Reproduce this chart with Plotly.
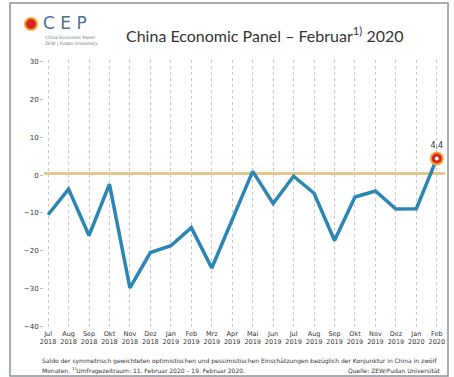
import plotly.graph_objects as go

months = ["Jul", "Aug", "Sep", "Okt", "Nov", "Dez", "Jan", "Feb", "Mrz", "Apr", "Mai", "Jun",
          "Jul", "Aug", "Sep", "Okt", "Nov", "Dez", "Jan", "Feb"]
years = ["2018"] * 6 + ["2019"] * 12 + ["2020"] * 2
values = [-10.5, -3.7, -16.0, -2.4, -29.9, -20.5, -18.7, -13.9, -24.6, -12.0, 1.0, -7.5,
          -0.3, -4.8, -17.3, -5.8, -4.2, -9.0, -8.9, 4.4]
last_label = "4,4"

W, H = 454, 377
ML, MR, MT, MB = 44, 9, 60, 49
PW, PH = W - ML - MR, H - MT - MB

def px(x):
    return (x - ML) / PW

def py(y):
    return (H - MB - y) / PH

xs = list(range(len(values)))
ticktext = [f"{m}<br>{y}" for m, y in zip(months, years)]

fig = go.Figure()

fig.add_trace(go.Scatter(
    x=xs, y=values, mode="lines",
    line=dict(color="#2b86b3", width=3.5),
    hoverinfo="skip", showlegend=False,
))
# highlighted last point
fig.add_trace(go.Scatter(
    x=[xs[-1]], y=[values[-1]], mode="markers+text",
    marker=dict(size=12, color="#d7261e", line=dict(color="#f2a33a", width=2)),
    text=[last_label], textposition="top center",
    textfont=dict(size=8, color="#333333", family="DejaVu Sans"),
    hoverinfo="skip", showlegend=False, cliponaxis=False,
))
fig.add_trace(go.Scatter(
    x=[xs[-1]], y=[values[-1]], mode="markers",
    marker=dict(size=4, color="white"),
    hoverinfo="skip", showlegend=False, cliponaxis=False,
))

shapes = [
    # zero line (orange band)
    dict(type="line", xref="paper", yref="y", x0=0, x1=1, y0=0.4, y1=0.4,
         line=dict(color="#e6c88a", width=3), layer="below"),
    # outer frame
    dict(type="rect", xref="paper", yref="paper", x0=px(10), x1=px(448), y0=py(3), y1=py(376),
         line=dict(color="#8a9299", width=1.5), fillcolor="rgba(0,0,0,0)"),
    # logo circle
    dict(type="circle", xref="paper", yref="paper",
         x0=px(25), x1=px(37), y0=py(30), y1=py(18),
         fillcolor="#d7261e", line=dict(color="#f2a33a", width=2)),
]

annotations = [
    dict(text="China Economic Panel – Februar<sup>1)</sup> 2020", x=px(124), y=py(35),
         xref="paper", yref="paper", xanchor="left", yanchor="middle", showarrow=False,
         font=dict(size=16, color="#333333", family="Lato")),
    dict(text="C E P", x=px(41), y=py(23), xref="paper", yref="paper",
         xanchor="left", yanchor="middle", showarrow=False,
         font=dict(size=17, color="#4d6f9c", family="DejaVu Sans")),
    dict(text="China Economic Panel<br>ZEW | Fudan University", x=px(43), y=py(41),
         xref="paper", yref="paper", xanchor="left", yanchor="middle", showarrow=False,
         align="left", font=dict(size=4.5, color="#6d7a8a", family="DejaVu Sans")),
    dict(text="Saldo der symmetrisch gewichteten optimistischen und pessimistischen Einschätzungen bezüglich der Konjunktur in China in zwölf",
         x=px(40), y=py(361), xref="paper", yref="paper", xanchor="left", yanchor="middle",
         showarrow=False, font=dict(size=6, color="#333333", family="DejaVu Sans")),
    dict(text="Monaten. <sup>1)</sup>Umfragezeitraum: 11. Februar 2020 – 19. Februar 2020.",
         x=px(40), y=py(370), xref="paper", yref="paper", xanchor="left", yanchor="middle",
         showarrow=False, font=dict(size=6, color="#333333", family="DejaVu Sans")),
    dict(text="Quelle: ZEW/Fudan Universität",
         x=px(443), y=py(370), xref="paper", yref="paper", xanchor="right", yanchor="middle",
         showarrow=False, font=dict(size=6, color="#333333", family="DejaVu Sans")),
]

fig.update_layout(
    width=W, height=H,
    margin=dict(l=ML, r=MR, t=MT, b=MB),
    paper_bgcolor="white", plot_bgcolor="white",
    showlegend=False,
    shapes=shapes, annotations=annotations,
    xaxis=dict(
        range=[-0.2, 19.4], tickmode="array", tickvals=xs, ticktext=ticktext,
        showgrid=True, gridcolor="#c8c8c8", griddash="dot", gridwidth=1,
        zeroline=False, showline=False, ticks="",
        tickfont=dict(size=6.5, color="#333333", family="DejaVu Sans"),
        fixedrange=True,
    ),
    yaxis=dict(
        range=[-40.5, 30.5], tickmode="array", tickvals=[-40, -30, -20, -10, 0, 10, 20, 30],
        showgrid=False, zeroline=False, showline=False,
        ticks="outside", ticklen=3, tickcolor="#bbbbbb",
        tickfont=dict(size=7, color="#333333", family="DejaVu Sans"),
        fixedrange=True,
    ),
)

fig.write_html("out.html")
